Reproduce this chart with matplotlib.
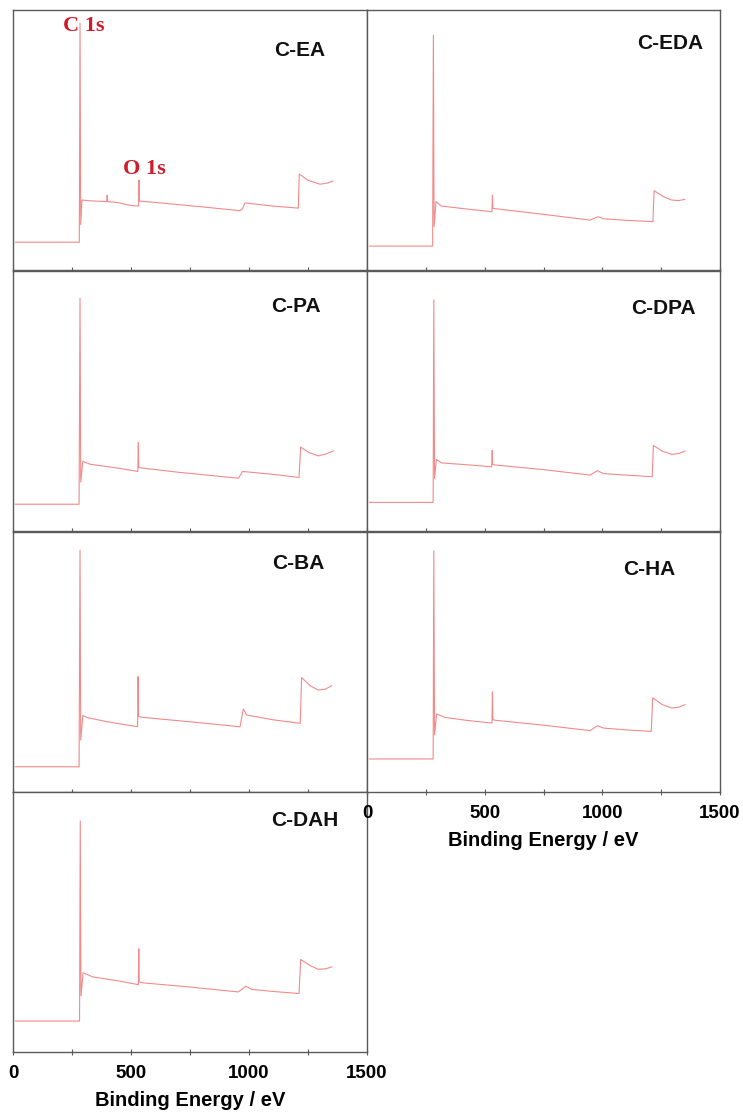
#!/usr/bin/env python3
# -*- coding: UTF-8 -*-
"""
    XPS survey spectra of the seven amine-modified carbons, 2-column stack
"""
import matplotlib
matplotlib.use('Agg')
import matplotlib.pyplot as plt
from matplotlib.ticker import MultipleLocator

# spectra: binding energy (eV) and intensity (a.u., 0-100)
ea_energy = [10, 281, 284, 287, 292, 330, 397, 399, 401, 440, 500, 532,
             534, 536, 600, 800, 962, 972, 983, 1100, 1209, 1213, 1250, 1301, 1330, 1356]
ea_counts = [10.7, 10.7, 95, 17.5, 26.9, 26.6, 26.3, 28.8, 26.3, 26.0, 24.8, 24.6,
             34.6, 26.5, 26.0, 24.3, 22.8, 23.5, 25.8, 24.6, 23.8, 36.9, 34.5, 33.0, 33.4, 34.2]

pa_energy = [10, 280, 284, 287, 296, 326, 450, 529, 531, 533, 549, 700, 955,
             973, 1100, 1212, 1219, 1255, 1294, 1325, 1357]
pa_counts = [10.3, 10.3, 89.5, 18.8, 26.8, 25.7, 24.1, 22.9, 34.0, 24.4, 24.2, 22.6, 20.3,
             22.9, 21.8, 20.6, 32.3, 30.1, 28.9, 29.6, 30.8]

ba_energy = [10, 280, 284, 287, 296, 315, 400, 528, 530, 532, 550, 750, 962,
             976, 990, 1100, 1217, 1223, 1260, 1294, 1325, 1350]
ba_counts = [9.7, 9.7, 93, 20.0, 29.4, 28.6, 27.0, 25.1, 44.4, 29.0, 28.7, 27.0, 25.1,
             31.9, 29.6, 27.8, 26.4, 44.0, 40.8, 39.2, 39.6, 40.9]

dah_energy = [10, 282, 285, 288, 297, 337, 450, 531, 533, 535, 550, 750, 955,
              987, 1011, 1100, 1212, 1219, 1260, 1294, 1325, 1350]
dah_counts = [11.9, 11.9, 88.9, 21.6, 30.5, 28.9, 27.3, 25.9, 39.7, 26.9, 26.6, 25.0, 23.1,
              25.3, 24.1, 23.3, 22.5, 35.6, 33.2, 31.8, 32.0, 32.7]

eda_energy = [10, 279, 282, 285, 293, 316, 420, 531, 533, 535, 544, 750, 948,
              983, 1004, 1100, 1215, 1220, 1260, 1295, 1325, 1351]
eda_counts = [9.2, 9.2, 90.4, 16.7, 26.3, 24.6, 23.5, 22.4, 28.8, 23.7, 23.6, 21.4, 19.2,
              20.5, 19.7, 19.1, 18.6, 30.5, 28.2, 26.9, 26.7, 27.2]

dpa_energy = [10, 281, 284, 287, 295, 316, 420, 530, 532, 534, 544, 750, 948,
              979, 1004, 1100, 1212, 1217, 1255, 1295, 1325, 1351]
dpa_counts = [11.0, 11.0, 88.9, 20.2, 27.5, 26.2, 25.5, 24.7, 31.0, 25.6, 25.4, 23.6, 21.5,
              23.2, 22.1, 21.5, 20.9, 32.9, 30.7, 29.5, 29.8, 30.8]

ha_energy = [10, 281, 284, 287, 296, 331, 420, 531, 533, 535, 544, 750, 948,
             979, 1004, 1100, 1208, 1214, 1255, 1295, 1325, 1351]
ha_counts = [12.7, 12.7, 92.8, 22.0, 30.0, 28.7, 27.6, 26.5, 38.5, 27.8, 27.6, 25.7, 23.6,
             25.5, 24.6, 23.9, 23.3, 36.2, 33.6, 32.3, 32.6, 33.6]

# (label, energy, counts, column, row)
panels = [
    ('C-EA', ea_energy, ea_counts, 0, 0),
    ('C-PA', pa_energy, pa_counts, 0, 1),
    ('C-BA', ba_energy, ba_counts, 0, 2),
    ('C-DAH', dah_energy, dah_counts, 0, 3),
    ('C-EDA', eda_energy, eda_counts, 1, 0),
    ('C-DPA', dpa_energy, dpa_counts, 1, 1),
    ('C-HA', ha_energy, ha_counts, 1, 2),
]
# where the sample name sits, in axes fraction
label_pos = {'C-EA': (0.81, 0.843), 'C-PA': (0.80, 0.862), 'C-BA': (0.805, 0.88),
             'C-DAH': (0.825, 0.889), 'C-EDA': (0.858, 0.87), 'C-DPA': (0.84, 0.854),
             'C-HA': (0.80, 0.854)}

line_col = '#f28a8a'
note_col = '#d01c2a'
spine_col = '#5a5a5a'
sans = ['Liberation Sans', 'DejaVu Sans']
serif = ['Liberation Serif', 'DejaVu Serif']

fig = plt.figure(figsize=(7.43, 11.17), dpi=100)
W, H = 743.0, 1117.0
col_x = [13, 367]
col_w = [354, 353]
row_top = [10, 271, 532, 792]
row_h = 260

for name, energy, counts, col, row in panels:
    left = col_x[col] / W
    bottom = 1 - (row_top[row] + row_h) / H
    ax = fig.add_axes([left, bottom, col_w[col] / W, row_h / H])
    ax.plot(energy, counts, color=line_col, lw=0.8)
    ax.set_xlim(0, 1500)
    ax.set_ylim(0, 100)
    ax.set_yticks([])
    ax.xaxis.set_major_locator(MultipleLocator(500))
    ax.xaxis.set_minor_locator(MultipleLocator(250))
    ax.tick_params(axis='x', which='both', direction='inout', length=5, width=0.8,
                   color=spine_col)
    for s in ax.spines.values():
        s.set_color(spine_col)
        s.set_linewidth(1.0)
    lx, ly = label_pos[name]
    ax.text(lx, ly, name, transform=ax.transAxes, ha='center', va='center',
            fontsize=15, fontweight='bold', family=sans, color='#111111')
    last = (col == 0 and row == 3) or (col == 1 and row == 2)
    if last:
        ax.tick_params(axis='x', labelsize=13.5, pad=7)
        for t in ax.get_xticklabels():
            t.set_fontweight('bold')
            t.set_family(sans)
        ax.set_xlabel('Binding Energy / eV', fontsize=14.5, fontweight='bold',
                      family=sans, labelpad=6)
    else:
        ax.tick_params(axis='x', labelbottom=False)
    if name == 'C-EA':
        ax.text(300, 94, 'C 1s', ha='center', va='center', fontsize=16,
                fontweight='bold', family=serif, color=note_col)
        ax.text(555, 39, 'O 1s', ha='center', va='center', fontsize=16,
                fontweight='bold', family=serif, color=note_col)

plt.savefig('out.png', dpi=100)
